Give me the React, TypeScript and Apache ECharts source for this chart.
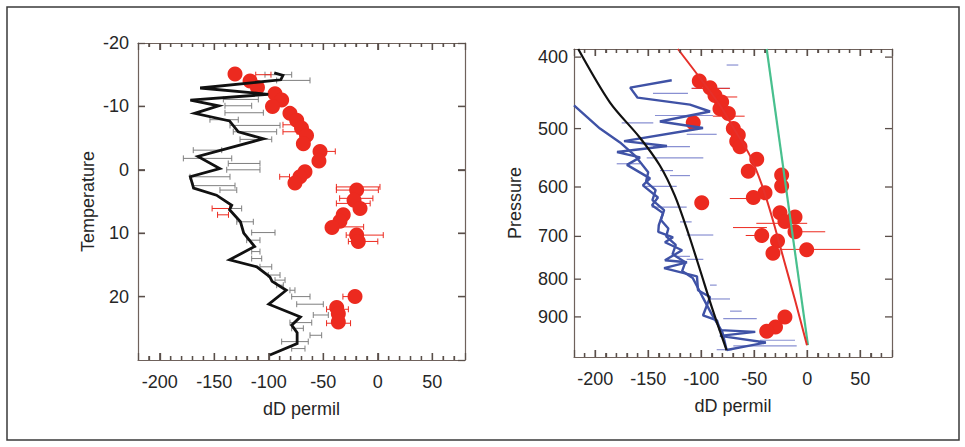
import React, { useEffect, useRef } from 'react';
import * as echarts from 'echarts';

// ---------- axis ranges & tick labels ----------
const X_MIN = -220;
const X_MAX = 80;
const T_MIN = -20;
const T_MAX = 30;
const P_MIN = 390;
const P_MAX = 1020;
const X_MAJOR_TICKS = [-200, -150, -100, -50, 0, 50];
const X_MINOR_STEP = 10;
const TEMP_TICKS = [-10, 0, 10, 20];
const PRESSURE_TICKS = [400, 500, 600, 700, 800, 900];

// ---------- left panel: dD vs temperature ----------
// black profile [dD, T]
const tempProfile: [number, number][] = [
  [-95, -15.3], [-87, -14.9], [-89, -14.2], [-163, -12.9], [-100.5, -11.9], [-172, -11.0],
  [-146, -10.1], [-168, -8.9], [-136, -7.7], [-128, -6.0], [-105, -4.9], [-165, -2.1],
  [-145, -0.2], [-172, 1.1], [-169, 2.9], [-148, 4.0], [-134, 5.6], [-136, 6.3],
  [-126, 8.2], [-123, 10.0], [-113, 12.1], [-136, 14.2], [-111, 15.3], [-99, 16.9],
  [-97, 17.6], [-84, 19.0], [-100, 21.2], [-71, 23.2], [-79, 24.5], [-74, 25.7],
  [-74, 27.4], [-99, 29.2],
];
// gray error bars [low, high, T]
const tempProfileErr: [number, number, number][] = [
  [-103.5, -79, -15.0], [-92.8, -62.2, -14.1], [-141.7, -109.6, -11.1], [-140.2, -115.7, -10.1],
  [-140.2, -105, -9.0], [-154, -128, -7.9], [-135.6, -89.7, -7.0], [-132.6, -92.8, -6.0],
  [-126.4, -97.3, -4.8], [-169.3, -143.2, -3.1], [-178.4, -134, -1.8], [-137.2, -108.1, -1.0],
  [-138.6, -108.1, 0.0], [-172.3, -135.6, 1.1], [-169.5, -131, 2.5], [-144.8, -129.4, 3.2],
  [-135.6, -124.9, 6.1], [-129.4, -114.2, 8.2], [-115.7, -94.3, 9.9], [-120.3, -108.1, 11.1],
  [-115.7, -108.1, 12.9], [-115.7, -106.5, 14.0], [-108.1, -97.3, 15.3], [-100.5, -89.7, 16.6],
  [-94.3, -85.1, 17.4], [-92.8, -86.7, 18.2], [-80.6, -76, 19.0], [-79, -62.2, 20.0],
  [-74.4, -50, 21.2], [-59.2, -45.4, 22.9], [-80.6, -60.6, 24.1], [-79, -68.3, 25.0],
  [-62.2, -51.5, 26.1], [-88.2, -63.8, 27.1], [-79, -66.8, 28.2],
];
// red observations [dD, T]
const tempObs: [number, number][] = [
  [-131, -15.1], [-117.2, -14.0], [-110.4, -13.0], [-94.3, -12.0], [-88.2, -11.0], [-96.6, -10.0],
  [-80.6, -8.9], [-74.4, -7.8], [-70, -6.6], [-65.4, -5.4], [-68.3, -4.1], [-53, -2.9],
  [-54, -1.4], [-66.8, 0.3], [-71.4, 1.1], [-76, 2.1], [-19.4, 3.2], [-21.8, 4.8],
  [-16.3, 6.1], [-31.7, 7.1], [-34.7, 8.1], [-42, 9.1], [-19.4, 10.3], [-17.9, 11.3],
  [-20.9, 20.0], [-37.7, 21.7], [-36.2, 22.7], [-36.2, 24.0],
];
// red error bars [low, high, T]
const tempObsErr: [number, number, number][] = [
  [-112, -98, -15.0], [-87, -71, -7.1], [-87, -74, -6.0], [-51, -39, -2.9], [-90, -81, 1.1],
  [-38, 2, 2.7], [-38, 0.5, 3.2], [-35, -4.5, 4.5], [-38, -7, 5.3], [-152, -136, 6.1],
  [-147, -137, 7.1], [-38, -13, 9.0], [-29, 5, 10.3], [-27, 0, 11.3], [-32, -25, 20.0],
  [-47, -27, 22.0], [-47, -25, 24.2],
];

// ---------- right panel: dD vs pressure ----------
const blueProfileA: [number, number][] = [
  [-220, 465], [-195.5, 500], [-176.6, 522], [-162.5, 544], [-150, 573], [-152, 590],
  [-143, 606], [-146, 625], [-135, 645], [-138, 665], [-131, 683], [-133, 700],
  [-124, 719], [-127, 740], [-115, 759], [-118, 780], [-108, 797], [-99, 844],
  [-90, 893], [-80, 944], [-76, 998],
];
const blueProfileB: [number, number][] = [
  [-127.8, 430], [-167, 440], [-160, 454], [-110.6, 464], [-91.7, 474], [-139, 489],
  [-98.3, 499], [-172.8, 520], [-132.3, 528], [-179.4, 538], [-157.7, 547], [-170, 560],
  [-148.3, 584], [-155, 597], [-140.8, 620], [-146.4, 635], [-136, 651], [-140, 676],
  [-140.5, 690], [-126.6, 702], [-134.2, 713], [-118, 731], [-134.2, 754], [-113.4, 759],
  [-135, 773], [-104, 793], [-103, 828], [-91.7, 846], [-98.3, 896], [-85.1, 910],
  [-82.3, 938], [-49, 943], [-82.3, 955], [-39, 975], [-76, 998],
];
const blueProfileErr: [number, number, number][] = [
  [-76, -65, 410], [-109, -72.8, 441], [-145.5, -112.5, 448], [-143.6, -88.9, 480],
  [-175, -145.2, 491], [-113.7, -85.4, 509], [-145.5, -110.6, 529], [-151.4, -98, 548],
  [-179.7, -157.7, 558], [-138.9, -126.6, 570], [-129.4, -110.6, 579], [-154.9, -123.1, 599],
  [-146.7, -113.7, 639], [-120, -109, 669], [-113.7, -88.6, 697], [-124.7, -110.6, 745],
  [-113.7, -98, 752], [-91.7, -85.4, 815], [-91.7, -72.8, 851], [-72.8, -61.8, 884],
  [-79.2, -47.6, 905], [-44.5, -11.5, 968], [-69.7, -9.9, 985], [-85.4, -71.2, 997],
];
const modelBlack: [number, number][] = [
  [-216, 390], [-186, 461], [-158, 514], [-139, 561], [-125, 616], [-112.5, 691],
  [-101, 778], [-89, 882], [-76, 999],
];
const modelRed: [number, number][] = [
  [-122, 390], [-101.1, 427], [-82.3, 465], [-68.1, 503], [-54, 544], [-42.6, 597],
  [-32.3, 666], [-21.9, 754], [-11.5, 854], [-0.2, 983],
];
const modelGreen: [number, number][] = [
  [-38.2, 390], [0.7, 983],
];
const pressObs: [number, number][] = [
  [-101.8, 431], [-91.7, 440], [-87, 451], [-80.7, 460], [-82.3, 470], [-74.4, 477],
  [-107.5, 491], [-69.7, 500], [-65, 510], [-66.5, 520], [-63.4, 529], [-47.6, 550],
  [-55.6, 571], [-24.1, 578], [-24.1, 598], [-39.8, 611], [-50.8, 620], [-99.5, 630],
  [-25.7, 650], [-11.5, 659], [-21, 668], [-11.5, 690], [-42.9, 698], [-28, 710],
  [-0.5, 730], [-32.3, 738], [-21, 900], [-29.9, 929], [-38.2, 941],
];
const pressObsErr: [number, number, number][] = [
  [-109, -73, 441], [-85, -66, 453], [-89, -59, 481], [-73, -51, 622], [-70, -38, 681],
  [-48, 0, 672], [-18, 17, 690], [-58, -42, 698], [-26, 50, 729],
];

// ---------- styling ----------
const FONT = '"Liberation Sans", Arial, Helvetica, sans-serif';
const FRAME = '#6f625c';
const TICK = '#5a4f4a';
const TEXT = '#262626';
const RED = '#ec2a1f';
const BLUE = '#3f52a6';
const BLUE_ERR = '#8990d2';
const GRAY_ERR = '#7f7f7f';
const GREEN = '#48c08e';

const AXIS_LINE = { show: true, onZero: false, lineStyle: { color: FRAME, width: 1.2 } };

// x tick list: [value, isMajor]
const xTickList = (): [number, number][] => {
  const out: [number, number][] = [];
  for (let v = X_MIN + X_MINOR_STEP; v < X_MAX; v += X_MINOR_STEP) {
    out.push([v, X_MAJOR_TICKS.includes(v) ? 1 : 0]);
  }
  return out;
};

const errorBars = (
  data: [number, number, number][],
  color: string,
  cap: number,
  xi: number,
  yi: number,
  width = 1,
) => ({
  type: 'custom',
  xAxisIndex: xi,
  yAxisIndex: yi,
  clip: true,
  encode: { x: [0, 1], y: 2 },
  data,
  renderItem: (_p: any, api: any) => {
    const a = api.coord([api.value(0), api.value(2)]);
    const b = api.coord([api.value(1), api.value(2)]);
    const st = { stroke: color, lineWidth: width };
    const children: any[] = [
      { type: 'line', shape: { x1: a[0], y1: a[1], x2: b[0], y2: b[1] }, style: st },
    ];
    if (cap > 0) {
      children.push(
        { type: 'line', shape: { x1: a[0], y1: a[1] - cap, x2: a[0], y2: a[1] + cap }, style: st },
        { type: 'line', shape: { x1: b[0], y1: b[1] - cap, x2: b[0], y2: b[1] + cap }, style: st },
      );
    }
    return { type: 'group', children };
  },
});

// ticks along top and bottom frame edges
const xTicksSeries = (xi: number, yi: number, yLo: number, yHi: number) => ({
  type: 'custom',
  xAxisIndex: xi,
  yAxisIndex: yi,
  clip: false,
  z: 10,
  encode: { x: 0, y: 1 },
  data: xTickList().map((d) => [d[0], yLo, d[1]]),
  renderItem: (_p: any, api: any) => {
    const a = api.coord([api.value(0), yLo]);
    const b = api.coord([api.value(0), yHi]);
    const bottom = Math.max(a[1], b[1]);
    const top = Math.min(a[1], b[1]);
    const len = api.value(2) ? 7 : 4;
    const st = { stroke: TICK, lineWidth: 1.3 };
    return {
      type: 'group',
      children: [
        { type: 'line', shape: { x1: a[0], y1: bottom, x2: a[0], y2: bottom - len }, style: st },
        { type: 'line', shape: { x1: a[0], y1: top, x2: a[0], y2: top + len }, style: st },
      ],
    };
  },
});

// ticks along left and right frame edges (optionally with labels)
const yTicksSeries = (xi: number, yi: number, ticks: number[], withLabels: boolean) => ({
  type: 'custom',
  xAxisIndex: xi,
  yAxisIndex: yi,
  clip: false,
  z: 10,
  encode: { x: 0, y: 1 },
  data: ticks.map((t) => [X_MIN, t]),
  renderItem: (_p: any, api: any) => {
    const l = api.coord([X_MIN, api.value(1)]);
    const r = api.coord([X_MAX, api.value(1)]);
    const st = { stroke: TICK, lineWidth: 1.3 };
    const children: any[] = [
      { type: 'line', shape: { x1: l[0], y1: l[1], x2: l[0] + 7, y2: l[1] }, style: st },
      { type: 'line', shape: { x1: r[0] - 7, y1: r[1], x2: r[0], y2: r[1] }, style: st },
    ];
    if (withLabels) {
      children.push({
        type: 'text',
        x: l[0] - 6,
        y: l[1],
        style: {
          text: String(api.value(1)),
          fill: TEXT,
          fontSize: 18,
          fontFamily: FONT,
          align: 'right',
          verticalAlign: 'middle',
        },
      });
    }
    return { type: 'group', children };
  },
});

const xAxisPair = (grid: number) => {
  const base = {
    gridIndex: grid,
    type: 'value',
    min: X_MIN,
    max: X_MAX,
    splitNumber: 6,
    axisLine: AXIS_LINE,
    splitLine: { show: false },
    axisTick: { show: true, inside: true, length: 7, lineStyle: { color: TICK, width: 1.3 } },
    minorTick: { show: true, splitNumber: 5, length: 4, lineStyle: { color: TICK, width: 1.3 } },
  };
  return [
    {
      ...base,
      position: 'bottom',
      axisLabel: {
        show: true,
        margin: 13,
        fontSize: 18,
        fontFamily: FONT,
        color: TEXT,
        showMinLabel: false,
        showMaxLabel: false,
      },
      name: 'dD permil',
      nameLocation: 'middle',
      nameGap: 40,
      nameTextStyle: { fontSize: 18, fontFamily: FONT, color: TEXT },
    },
    { ...base, position: 'top', axisLabel: { show: false } },
  ];
};

export default function App() {
  const ref = useRef<HTMLDivElement>(null);

  useEffect(() => {
    if (!ref.current) return;
    const chart = echarts.init(ref.current, undefined, { renderer: 'svg' });

    const tempAxisBase = {
      gridIndex: 0,
      type: 'value',
      min: T_MIN,
      max: T_MAX,
      interval: 10,
      inverse: true,
      axisLine: AXIS_LINE,
      splitLine: { show: false },
      axisTick: { show: true, inside: true, length: 7, lineStyle: { color: TICK, width: 1.3 } },
    };
    const pressAxisBase = {
      gridIndex: 1,
      type: 'log',
      logBase: 10,
      min: P_MIN,
      max: P_MAX,
      inverse: true,
      axisLine: AXIS_LINE,
      axisTick: { show: false },
      minorTick: { show: false },
      axisLabel: { show: false },
      splitLine: { show: false },
    };

    const option: any = {
      animation: false,
      backgroundColor: '#ffffff',
      textStyle: { fontFamily: FONT },
      graphic: [
        {
          type: 'rect',
          shape: { x: 7, y: 7, width: 952, height: 433 },
          style: { fill: 'none', stroke: '#3a3a3a', lineWidth: 1.5 },
          silent: true,
          z: -1,
        },
      ],
      grid: [
        { left: 138, top: 43, width: 327, height: 317, show: false },
        { left: 574, top: 49, width: 318, height: 308, show: false },
      ],
      xAxis: [...xAxisPair(0), ...xAxisPair(1)],
      yAxis: [
        {
          ...tempAxisBase,
          position: 'left',
          axisLabel: { show: true, margin: 9, fontSize: 18, fontFamily: FONT, color: TEXT, showMaxLabel: false },
          name: 'Temperature',
          nameLocation: 'middle',
          nameRotate: 90,
          nameGap: 41,
          nameTextStyle: { fontSize: 18, fontFamily: FONT, color: TEXT },
        },
        { ...tempAxisBase, position: 'right', axisLabel: { show: false } },
        {
          ...pressAxisBase,
          position: 'left',
          name: 'Pressure',
          nameLocation: 'middle',
          nameRotate: 90,
          nameGap: 50,
          nameTextStyle: { fontSize: 18, fontFamily: FONT, color: TEXT },
        },
        { ...pressAxisBase, position: 'right' },
      ],
      series: [
        // ----- left panel -----
        errorBars(tempProfileErr, GRAY_ERR, 3, 0, 0),
        {
          type: 'line',
          xAxisIndex: 0,
          yAxisIndex: 0,
          data: tempProfile,
          showSymbol: false,
          symbol: 'none',
          lineStyle: { color: '#111111', width: 2.8, join: 'miter' },
        },
        errorBars(tempObsErr, RED, 3, 0, 0),
        {
          type: 'scatter',
          xAxisIndex: 0,
          yAxisIndex: 0,
          data: tempObs,
          symbol: 'circle',
          symbolSize: 15,
          itemStyle: { color: RED, opacity: 1 },
        },
        xTicksSeries(0, 0, T_MIN, T_MAX),
        yTicksSeries(0, 0, TEMP_TICKS, false),
        // ----- right panel -----
        errorBars(blueProfileErr, BLUE_ERR, 0, 2, 2, 1.2),
        {
          type: 'line',
          xAxisIndex: 2,
          yAxisIndex: 2,
          data: blueProfileA,
          showSymbol: false,
          symbol: 'none',
          lineStyle: { color: BLUE, width: 2.4 },
        },
        {
          type: 'line',
          xAxisIndex: 2,
          yAxisIndex: 2,
          data: blueProfileB,
          showSymbol: false,
          symbol: 'none',
          lineStyle: { color: BLUE, width: 2.4 },
        },
        {
          type: 'line',
          xAxisIndex: 2,
          yAxisIndex: 2,
          data: modelBlack,
          smooth: 0.3,
          showSymbol: false,
          symbol: 'none',
          lineStyle: { color: '#111111', width: 2.2 },
        },
        {
          type: 'line',
          xAxisIndex: 2,
          yAxisIndex: 2,
          data: modelGreen,
          showSymbol: false,
          symbol: 'none',
          lineStyle: { color: GREEN, width: 2.2 },
        },
        errorBars(pressObsErr, RED, 0, 2, 2, 1),
        {
          type: 'line',
          xAxisIndex: 2,
          yAxisIndex: 2,
          data: modelRed,
          smooth: 0.3,
          showSymbol: false,
          symbol: 'none',
          lineStyle: { color: '#e6302a', width: 2 },
        },
        {
          type: 'scatter',
          xAxisIndex: 2,
          yAxisIndex: 2,
          data: pressObs,
          symbol: 'circle',
          symbolSize: 15,
          itemStyle: { color: RED, opacity: 1 },
        },
        xTicksSeries(2, 2, P_MIN, P_MAX),
        yTicksSeries(2, 2, PRESSURE_TICKS, true),
      ],
    };

    chart.setOption(option);
    return () => chart.dispose();
  }, []);

  return (
    <div
      ref={ref}
      style={{ position: 'fixed', left: 0, top: 0, width: 965, height: 447, background: '#fff' }}
    />
  );
}
